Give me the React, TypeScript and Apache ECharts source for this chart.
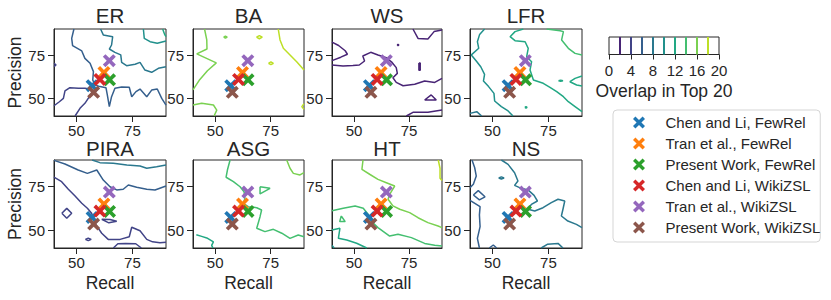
import React, { useEffect, useRef } from 'react';
import * as echarts from 'echarts';

// ---------- data ----------
const panelNames = ['ER', 'BA', 'WS', 'LFR', 'PIRA', 'ASG', 'HT', 'NS'];
const xTicks = [50, 75];
const yTicks = [50, 75];
const cbTicks = [0, 4, 8, 12, 16, 20];
const cbLevels = [2, 4, 6, 8, 10, 12, 14, 16, 18];
const levelColors: Record<number, string> = {
  2: '#482475', 4: '#414487', 6: '#355f8d', 8: '#2a788e', 10: '#21918c',
  12: '#22a884', 14: '#44bf70', 16: '#7ad151', 18: '#bddf26',
};

const methodNames = [
  'Chen and Li, FewRel', 'Tran et al., FewRel', 'Present Work, FewRel',
  'Chen and Li, WikiZSL', 'Tran et al., WikiZSL', 'Present Work, WikiZSL',
];
const methodColors = ['#1f77b4', '#ff7f0e', '#2ca02c', '#d62728', '#9467bd', '#8c564b'];
const recallValues = [57.0, 62.3, 64.8, 60.5, 64.7, 57.7];
const precisionValues = [57.4, 65.0, 60.8, 61.0, 71.8, 53.6];

// ER contours
const erL4a = [[40,45.9],[42.4,48.2],[44.2,50.1],[44.9,54.4],[47.1,56.3],[50.9,55.9],[53.8,55.9],[56.1,55.5],[57.3,54.0],[55.8,51.1],[53.8,47.3],[51.6,44.4],[49.4,40]];
const erL4b = [[40,70.3],[40.9,69.4],[40,68.4]];
const erL6 = [[48.9,90],[47.9,84.6],[48.3,80.4],[52.4,77.4],[53.8,73.1],[56.1,70.3],[57.6,65.5],[57.3,60.7],[58.3,57.8],[60.5,56.9],[63.2,56.3],[63.8,52.1],[64.7,45.4],[65.7,51.1],[67.2,55.9],[70.2,56.7],[73.6,56.5],[74.7,51.1],[76.6,54.0],[78.4,55.5],[81.4,51.1],[83.6,54.9],[86.1,55.5],[88.1,50.1],[90,46.3]];
const erL8 = [[60.8,90],[62.0,86.6],[66.2,85.6],[65.7,80.8],[64.7,78.5],[67.2,76.6],[69.8,75.1],[70.2,70.8],[72.4,68.9],[76.2,69.7],[78.4,70.8],[80.6,66.4],[83.6,65.1],[86.6,67.4],[90,68.3]];
const erL10 = [[79.9,90],[80.3,84.6],[82.9,82.7],[86.1,81.8],[90,83.1]];
const erL12 = [[88.5,90],[89.5,86.6],[90,85.6]];

// BA contours
const baL16a = [[45.2,90],[46.2,83.7],[46.3,78.5],[41.7,75.7],[50.5,70.5],[46.5,66],[42.8,60.5],[40.5,56],[40,55]];
const baL16b = [[40,46.3],[43.9,47.3],[49.2,46.3],[50.7,43.4],[49.5,40]];
const baL16c = [[53.8,85.3],[54.6,85.9],[55.4,85.3],[54.6,84.7],[53.8,85.3]];
const baL18a = [[78.4,90],[79.2,83.7],[80.7,78.9],[83.7,75.1],[86.7,71.2],[90,66.4]];
const baL18b = [[68.6,85.3],[69.9,86.2],[71.2,85.3],[69.9,84.4],[68.6,85.3]];
const baL18c = [[74,70.3],[75.1,71.1],[76.2,70.3],[75.1,69.5],[74,70.3]];
const baL18d = [[90,47],[89,45.4],[90,43.8]];

// WS contours
const wsL2a = [[40,82.5],[43,80.5],[46,77.5],[47,75.5],[44,73.8],[40,71.8]];
const wsL2b = [[40,69.3],[45,68.8],[49.5,69],[52.4,69.3],[54.8,71.6],[54,74.5],[57.6,76.6],[60.9,75.1],[64.7,73.5],[67.3,70.8],[69.2,67.8],[69.7,64.5],[67.7,62],[69.2,59.3],[72.3,57.4],[77.6,58.2],[82.1,60.1],[86.7,59.3],[90,61.6]];
const wsL2c = [[82.1,49.2],[85.1,52.1],[87.4,49.2],[82.1,49.2]];
const wsL2d = [[73.8,40],[76.8,42.1],[83.6,42.1],[90,43.4]];
const wsL2e = [[76.8,90],[79.1,84.6],[83.6,84.3],[86.4,88.5],[90,89.4]];
const wsL2f = [[79.5,70.5],[80.1,70.5],[80.1,66.3],[79.5,66.3],[79.5,70.5]];
const wsL2g = [[69.6,80.8],[70,81.2],[70.4,80.8],[70,80.4],[69.6,80.8]];

// LFR contours
const lfrL8 = [[40,41.5],[43,42.5],[45.2,40]];
const lfrL10 = [[46.5,90],[44.3,86.9],[43.3,82.7],[43.9,78.9],[40.6,75.1],[42.8,71.6],[44.8,68.3],[46.5,63.9],[46.0,60.1],[48.3,56.9],[50.7,53.0],[51.0,48.6],[54.0,45.4],[57.0,42.9],[59.2,40]];
const lfrL12a = [[63.8,90],[60.1,88.5],[57.9,85.6],[60.1,83.3],[64.6,82.7],[66.0,78.9],[65.3,74.1],[67.5,71.2],[66.8,66.4],[68.3,60.7],[72.7,58.8],[75.7,56.5],[78.7,54.0],[81.7,51.1],[83.9,48.2],[86.9,45.4],[90,42.5]];
const lfrL12b = [[90,63],[86.9,61.6],[84.6,59.7],[87.6,57.8],[90,57.2]];
const lfrL12c = [[79.5,60.3],[80.5,60.6],[81.5,60.3],[80.5,60.0],[79.5,60.3]];
const lfrL12d = [[64.5,45],[65,45.4],[65.5,45],[65,44.6],[64.5,45]];
const lfrL14 = [[74.2,90],[80.2,89.0],[81.7,88.5],[80.9,83.7],[83.9,78.9],[86.9,76.0],[90,75.1]];

// PIRA contours
const piraL4a = [[40,80.3],[43.4,77.7],[46.4,73.4],[49.4,69.5],[52.4,65.4],[54.9,62.6],[56.8,59.7],[58.3,54],[61.3,48.4],[64.2,44.9],[69.5,44.9],[73.6,46.4],[74.7,51.8],[78.4,49.8],[81.4,44.9],[84,43.5],[87.3,43],[90,43.3]];
const piraL4b = [[66.5,40],[68.5,42.4],[72,42.6],[76.5,42.4],[79,40]];
const piraL4c = [[43.5,59.7],[45.7,62.5],[47.9,59.7],[45.7,56.9],[43.5,59.7]];
const piraL4d = [[54,44.9],[55.3,45.6],[56.6,44.9],[55.3,44.2],[54,44.9]];
const piraL4e = [[61.3,56.3],[65,56.2],[68,55.2],[64.5,54.3],[61.3,56.3]];
const piraL6 = [[40,89.8],[44.9,87.7],[50.8,84.3],[54.9,82.4],[59.1,84.3],[62.0,78.6],[65.0,74.8],[68.0,73.0],[70.9,73.4],[73.2,75.8],[76.9,74.5],[81.4,73.4],[85.1,73.0],[90,75.2]];
const piraL8 = [[57,90],[60.5,88.5],[66.5,88.1],[72.5,87.2],[78.4,86.6],[81.4,85.3],[85.8,86.2],[90,87.2]];

// ASG contours
const asgL12 = [[41.5,47.5],[43.9,46.6],[46.2,45.7],[49.2,43.5],[48.4,41.5],[49,40]];
const asgL14a = [[56.7,90],[55.5,84.3],[54.9,80.2],[58.2,77.7],[61.2,74.8],[63.0,72.0],[63.4,68.2],[62.7,65.4],[64.9,63.5],[68.7,62.9],[70.9,61.6],[70.2,57.8],[68.7,51.2],[72.4,49.3],[76.2,50.6],[80.0,48.4],[83.7,45.5],[87.4,47.4],[90,46.4]];
const asgL14b = [[70.2,74.8],[74.7,73.9],[70.2,70.7],[70.2,74.8]];
const asgL16 = [[82.2,90],[83.7,85.3],[85.2,82.4],[88.2,81.5],[90,82.8]];

// HT contours
const htL10 = [[40,41.5],[41,40]];
const htL12 = [[40,50.2],[43.6,51.2],[42.9,45.5],[46.7,44.5],[51.2,42.7],[55.8,40]];
const htL14a = [[40,61.2],[45.1,62.6],[50.5,63.9],[54.2,62.6],[56.5,59],[58,55],[60.9,51.6],[66.2,46.8],[70,47.8],[76.1,45.9],[82.1,42.6],[86.7,41.5],[90,41.1]];
const htL14b = [[44.2,58.2],[46.0,55.0],[43.5,55.0],[44.2,58.2]];
const htL16 = [[54.1,90],[53.6,84.7],[57.1,81.9],[60.9,79.0],[64.7,77.1],[68.5,75.2],[66.2,70.5],[65.5,67.7],[67.7,63.9],[70.8,62.0],[75.3,60.1],[79.1,57.2],[83.6,54.4],[88.2,52.5],[90,51.6]];
const htL18 = [[88.3,90],[89.1,85.3],[89.1,79.6],[90,78.4]];

// NS contours
const nsL6a = [[40.9,90],[42.1,85.6],[42.8,80.9],[41.5,76.2],[40,74.3]];
const nsL6b = [[41.5,70.1],[43.7,72.6],[46.7,69.1],[44.2,67.3],[41.5,70.1]];
const nsL6c = [[40,67],[44.5,63.5],[44.2,58.8],[44.5,52.1],[43.3,45.5],[44.2,40]];
const nsL6d = [[48.6,40],[50.4,41.7],[51.9,40]];
const nsL8a = [[54.0,90],[57.0,87.5],[59.9,82.8],[61.4,78.1],[59.9,75.6],[62.9,73.9],[65.9,73.0],[68.6,69.9],[70.1,66.7],[67.4,64.8],[65.9,62.0],[68.9,61.0],[72.6,62.9],[76.3,65.8],[79.3,67.7],[82.3,66.7],[81.5,62.0],[80.8,58.2],[83.7,55.3],[87.5,53.4],[90,51.6]];
const nsL8b = [[71.8,40],[74.5,42.1],[79.3,42.6],[81.5,40]];
const nsL8c = [[52.8,79.8],[54,80.4],[55.2,79.8],[54,79.2],[52.8,79.8]];

const panelContours: { level: number; pts: number[][] }[][] = [
  [{ level: 4, pts: erL4a }, { level: 4, pts: erL4b }, { level: 6, pts: erL6 }, { level: 8, pts: erL8 }, { level: 10, pts: erL10 }, { level: 12, pts: erL12 }],
  [{ level: 16, pts: baL16a }, { level: 16, pts: baL16b }, { level: 16, pts: baL16c }, { level: 18, pts: baL18a }, { level: 18, pts: baL18b }, { level: 18, pts: baL18c }, { level: 18, pts: baL18d }],
  [{ level: 2, pts: wsL2a }, { level: 2, pts: wsL2b }, { level: 2, pts: wsL2c }, { level: 2, pts: wsL2d }, { level: 2, pts: wsL2e }, { level: 2, pts: wsL2f }, { level: 2, pts: wsL2g }],
  [{ level: 8, pts: lfrL8 }, { level: 10, pts: lfrL10 }, { level: 12, pts: lfrL12a }, { level: 12, pts: lfrL12b }, { level: 12, pts: lfrL12c }, { level: 12, pts: lfrL12d }, { level: 14, pts: lfrL14 }],
  [{ level: 4, pts: piraL4a }, { level: 4, pts: piraL4b }, { level: 4, pts: piraL4c }, { level: 4, pts: piraL4d }, { level: 4, pts: piraL4e }, { level: 6, pts: piraL6 }, { level: 8, pts: piraL8 }],
  [{ level: 12, pts: asgL12 }, { level: 14, pts: asgL14a }, { level: 14, pts: asgL14b }, { level: 16, pts: asgL16 }],
  [{ level: 10, pts: htL10 }, { level: 12, pts: htL12 }, { level: 14, pts: htL14a }, { level: 14, pts: htL14b }, { level: 16, pts: htL16 }, { level: 18, pts: htL18 }],
  [{ level: 6, pts: nsL6a }, { level: 6, pts: nsL6b }, { level: 6, pts: nsL6c }, { level: 6, pts: nsL6d }, { level: 8, pts: nsL8a }, { level: 8, pts: nsL8b }, { level: 8, pts: nsL8c }],
];

// ---------- layout / style ----------
const FONT = '"Liberation Sans", Arial, Helvetica, sans-serif';
const INK = '#262626';
const X_PATH = 'path://M2,0L5,3L8,0L10,2L7,5L10,8L8,10L5,7L2,10L0,8L3,5L0,2Z';
const colLefts = [54, 193, 332, 470];
const colWidths = [112, 111, 110, 112];
const rowTops = [29, 160];
const rowHeights = [87, 88];

function buildOption(): any {
  const grids: any[] = [];
  const xAxes: any[] = [];
  const yAxes: any[] = [];
  const series: any[] = [];
  const titles: any[] = [];

  panelNames.forEach((name, i) => {
    const r = Math.floor(i / 4);
    const c = i % 4;
    grids.push({
      left: colLefts[c], top: rowTops[r], width: colWidths[c], height: rowHeights[r],
      show: true, borderColor: INK, borderWidth: 1, containLabel: false,
    });
    xAxes.push({
      gridIndex: i, type: 'value', min: 40, max: 90,
      axisLine: { show: true, lineStyle: { color: INK, width: 1 } },
      axisTick: { show: true, length: 6, customValues: xTicks, lineStyle: { color: INK, width: 1 } },
      axisLabel: { show: true, customValues: xTicks, fontSize: 15, lineHeight: 13, color: INK, margin: 8, fontFamily: FONT },
      splitLine: { show: false },
      name: r === 1 ? 'Recall' : '', nameLocation: 'middle', nameGap: 26,
      nameTextStyle: { fontSize: 17.5, color: INK, fontFamily: FONT },
    });
    yAxes.push({
      gridIndex: i, type: 'value', min: 40, max: 90,
      axisLine: { show: true, lineStyle: { color: INK, width: 1 } },
      axisTick: { show: true, length: 6, customValues: yTicks, lineStyle: { color: INK, width: 1 } },
      axisLabel: { show: true, customValues: yTicks, fontSize: 15, color: INK, margin: 9, fontFamily: FONT },
      splitLine: { show: false },
      name: c === 0 ? 'Precision' : '', nameLocation: 'middle', nameGap: 28,
      nameTextStyle: { fontSize: 17.5, color: INK, fontFamily: FONT },
    });
    titles.push({
      text: name, left: colLefts[c] + colWidths[c] / 2, top: r === 0 ? 15 : 148,
      textAlign: 'center', textVerticalAlign: 'middle', padding: 0,
      textStyle: { fontSize: 20.5, lineHeight: 16, fontWeight: 'normal', color: INK, fontFamily: FONT },
    });
    panelContours[i].forEach((ct) => {
      series.push({
        type: 'line', xAxisIndex: i, yAxisIndex: i, data: ct.pts, showSymbol: false,
        symbol: 'none', silent: true, clip: true, z: 2,
        lineStyle: { color: levelColors[ct.level], width: 1.5 },
      });
    });
    methodNames.forEach((m, k) => {
      series.push({
        type: 'scatter', name: m, xAxisIndex: i, yAxisIndex: i,
        data: [[recallValues[k], precisionValues[k]]],
        symbol: X_PATH, symbolSize: 13, symbolKeepAspect: true, z: 5 + k,
        itemStyle: { color: methodColors[k], opacity: 1 },
      });
    });
  });

  // colorbar
  const cbIdx = panelNames.length;
  grids.push({ left: 609, top: 37, width: 110, height: 17.5, show: true, borderColor: INK, borderWidth: 1 });
  xAxes.push({
    gridIndex: cbIdx, type: 'value', min: 0, max: 20, interval: 4,
    axisLine: { show: true, lineStyle: { color: INK } },
    axisTick: { show: true, length: 5, lineStyle: { color: INK } },
    axisLabel: { fontSize: 15, color: INK, margin: 8, fontFamily: FONT, customValues: cbTicks },
    splitLine: { show: false },
    name: 'Overlap in Top 20', nameLocation: 'middle', nameGap: 27,
    nameTextStyle: { fontSize: 17.5, color: INK, fontFamily: FONT },
  });
  yAxes.push({ gridIndex: cbIdx, type: 'value', min: 0, max: 1, show: false });
  cbLevels.forEach((lv) => {
    series.push({
      type: 'line', xAxisIndex: cbIdx, yAxisIndex: cbIdx, data: [[lv, 0], [lv, 1]],
      showSymbol: false, symbol: 'none', silent: true,
      lineStyle: { color: levelColors[lv], width: 2 },
    });
  });

  return {
    animation: false,
    backgroundColor: '#ffffff',
    textStyle: { fontFamily: FONT },
    title: titles,
    grid: grids,
    xAxis: xAxes,
    yAxis: yAxes,
    legend: {
      data: methodNames.map((n) => ({ name: n, icon: X_PATH })),
      orient: 'vertical', left: 613, top: 110,
      itemWidth: 43, itemHeight: 12, itemGap: 6, symbolKeepAspect: true,
      padding: [5, 0, 7, 20],
      borderColor: '#d5d5d5', borderWidth: 1, borderRadius: 4,
      textStyle: { fontSize: 15, color: INK, fontFamily: FONT },
      selectedMode: false,
    },
    series,
  };
}

export default function App() {
  const ref = useRef<HTMLDivElement>(null);
  useEffect(() => {
    if (!ref.current) return;
    const chart = echarts.init(ref.current, undefined, { renderer: 'svg' });
    chart.setOption(buildOption());
    return () => chart.dispose();
  }, []);
  return (
    <div
      ref={ref}
      style={{ position: 'absolute', left: 0, top: 0, width: 831, height: 300, background: '#fff' }}
    />
  );
}
